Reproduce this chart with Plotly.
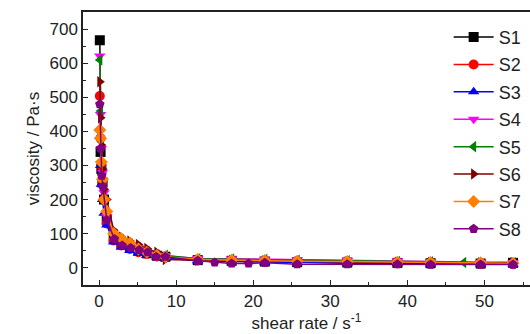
import plotly.graph_objects as go

names = ["S1", "S2", "S3", "S4", "S5", "S6", "S7", "S8"]
colors = ["#000000", "#FF0000", "#0000FF", "#FF00FF", "#008000", "#800000", "#FF8000", "#800080"]
symbols = ["square", "circle", "triangle-up", "triangle-down", "triangle-left",
           "triangle-right", "diamond", "pentagon"]

x_main = [0.1, 0.2, 0.3, 0.45, 0.65, 1.0, 1.9, 2.9, 4.0, 5.1, 6.2, 7.5, 8.6,
          12.8, 17.2, 21.5, 25.7, 32.2, 38.7, 43.0, 49.5, 53.7]
x_s5 = [0.1, 0.2, 0.3, 0.45, 0.65, 1.0, 1.9, 2.9, 4.0, 5.1, 6.2, 7.5, 8.6,
        12.8, 17.2, 21.5, 25.7, 32.2, 38.7, 43.0, 47.3, 53.7]
x_s8 = [0.1, 0.2, 0.35, 0.5, 1.0, 2.0, 3.0, 4.1, 5.2, 6.3, 7.4, 8.6,
        12.8, 15.0, 17.2, 19.4, 21.5, 25.7, 32.2, 38.7, 43.0, 49.5, 53.7]

s1 = [668, 340, 290, 250, 200, 140, 85, 70, 60, 50, 42, 35, 32, 22, 20, 18, 16, 15, 14, 13, 12, 14]
s2 = [504, 380, 300, 250, 200, 130, 80, 65, 55, 45, 40, 33, 30, 21, 19, 17, 15, 14, 13, 12, 11, 11]
s3 = [385, 300, 245, 200, 160, 125, 75, 60, 50, 42, 36, 30, 28, 20, 18, 16, 14, 13, 12, 11, 10, 10]
s4 = [622, 450, 350, 280, 220, 150, 95, 80, 68, 58, 48, 38, 35, 27, 26, 25, 24, 22, 20, 18, 16, 15]
s5 = [610, 460, 370, 300, 240, 160, 100, 82, 70, 58, 48, 38, 36, 26, 25, 24, 22, 20, 18, 17, 15, 14]
s6 = [546, 440, 360, 290, 230, 200, 110, 90, 78, 68, 56, 45, 24, 22, 21, 20, 18, 17, 16, 15, 14, 15]
s7 = [404, 380, 310, 260, 200, 165, 100, 85, 72, 55, 45, 36, 32, 24, 22, 21, 19, 18, 16, 15, 14, 13]
s8 = [480, 350, 270, 238, 140, 84, 65, 58, 52, 45, 32, 32, 20, 15, 12, 12, 14, 10, 10, 10, 9, 9, 9]

xs = [x_main, x_main, x_main, x_main, x_s5, x_main, x_main, x_s8]
ys = [s1, s2, s3, s4, s5, s6, s7, s8]

font_family = "Liberation Sans, Arial, sans-serif"

fig = go.Figure()
for n, c, s, x, y in zip(names, colors, symbols, xs, ys):
    fig.add_trace(go.Scatter(
        x=x, y=y, name=n, mode="lines+markers", legendgroup=n,
        line=dict(color=c, width=1.5),
        marker=dict(symbol=s, color=c, size=10, line=dict(width=0)),
    ))

fig.update_layout(
    width=530, height=334,
    margin=dict(l=83, r=0, t=12, b=49),
    paper_bgcolor="white", plot_bgcolor="white",
    font=dict(family=font_family, size=17, color="#222222"),
    showlegend=True,
    legend=dict(
        x=0.818, y=0.975, xanchor="left", yanchor="top",
        bgcolor="rgba(0,0,0,0)", borderwidth=0,
        font=dict(size=18, color="#222222"),
        itemwidth=40, tracegroupgap=1,
    ),
    xaxis=dict(
        range=[-2.08, 55.9], showgrid=False, zeroline=False,
        showline=True, linecolor="#222222", linewidth=1.5, mirror=True,
        ticks="inside", ticklen=5, tickwidth=1.2, tickcolor="#222222",
        tickmode="array", tickvals=[0, 10, 20, 30, 40, 50],
        minor=dict(ticks="inside", ticklen=3, tickwidth=1.2, tickcolor="#222222",
                   tickmode="array", tickvals=[5, 15, 25, 35, 45, 55]),
        title=dict(text="shear rate / s<sup>-1</sup>", font=dict(size=17), standoff=2),
    ),
    yaxis=dict(
        range=[-51, 751], showgrid=False, zeroline=False,
        showline=True, linecolor="#222222", linewidth=1.5,
        ticks="inside", ticklen=5, tickwidth=1.2, tickcolor="#222222",
        tickmode="array", tickvals=[0, 100, 200, 300, 400, 500, 600, 700],
        minor=dict(ticks="inside", ticklen=3, tickwidth=1.2, tickcolor="#222222",
                   tickmode="array", tickvals=[50, 150, 250, 350, 450, 550, 650, 750]),
        title=dict(text="viscosity / Pa·s", font=dict(size=17), standoff=6),
    ),
)

fig.write_html("out.html")
